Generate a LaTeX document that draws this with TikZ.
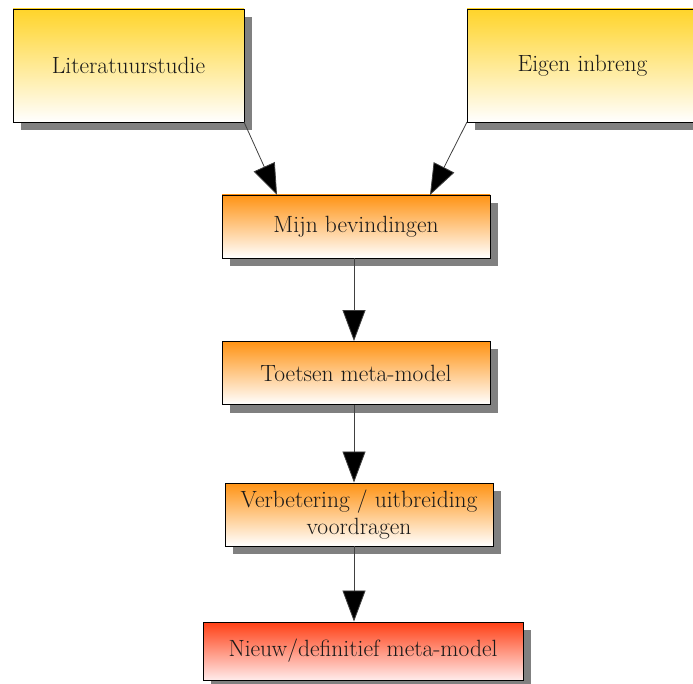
\documentclass[tikz,border=0pt]{standalone}
\usetikzlibrary{arrows.meta,shadows}
\definecolor{boxyellow}{HTML}{FFD42A}
\definecolor{boxorange}{HTML}{FF9314}
\definecolor{boxred}{HTML}{FF3F14}
\definecolor{txtgray}{HTML}{1A1A1A}
\definecolor{shadowgray}{HTML}{808080}
\begin{document}
\begin{tikzpicture}[x=1pt,y=-1pt,
  flowbox/.style={draw=black, line width=0.9pt, inner sep=0pt, align=center,
    text=txtgray, font=\fontsize{23.5}{27}\selectfont,
    drop shadow={shadow xshift=8pt, shadow yshift=-8pt, fill=shadowgray, opacity=1},
    bottom color=white},
  srcbox/.style={flowbox, minimum width=231pt, minimum height=113pt, top color=boxyellow},
  stepbox/.style={flowbox, minimum width=268pt, minimum height=63pt, top color=boxorange},
  endbox/.style={flowbox, minimum width=320pt, minimum height=58pt, top color=boxred, bottom color=red!8},
  flow/.style={draw=black!75, line width=0.8pt, -{Triangle[length=31pt,width=23pt,fill=black]}}
]
\useasboundingbox (0,0) rectangle (693,684);
\fill[white] (0,0) rectangle (693,684);

\node[srcbox] (lit) at (128.5,65.5) {Literatuurstudie};
\node[srcbox] (eigen) at (582.5,65.5) {Eigen inbreng};
\node[stepbox] (mijn) at (356,226.5) {Mijn bevindingen};
\node[stepbox] (toets) at (356,373) {Toetsen meta-model};
\node[stepbox] (verb) at (359,514.5) {Verbetering / uitbreiding\\voordragen};
\node[endbox] (nieuw) at (363,651) {Nieuw/definitief meta-model};

\coordinate (litout) at (244,122);
\coordinate (eigenout) at (467,122);
\coordinate (mijnin1) at (277,195);
\coordinate (mijnin2) at (430,195);
\draw[flow] (litout) -- (mijnin1);
\draw[flow] (eigenout) -- (mijnin2);
\draw[flow] (mijn.south -| 354,0) -- (toets.north -| 354,0);
\draw[flow] (toets.south -| 354,0) -- (verb.north -| 354,0);
\draw[flow] (verb.south -| 354,0) -- (nieuw.north -| 354,0);
\end{tikzpicture}
\end{document}
